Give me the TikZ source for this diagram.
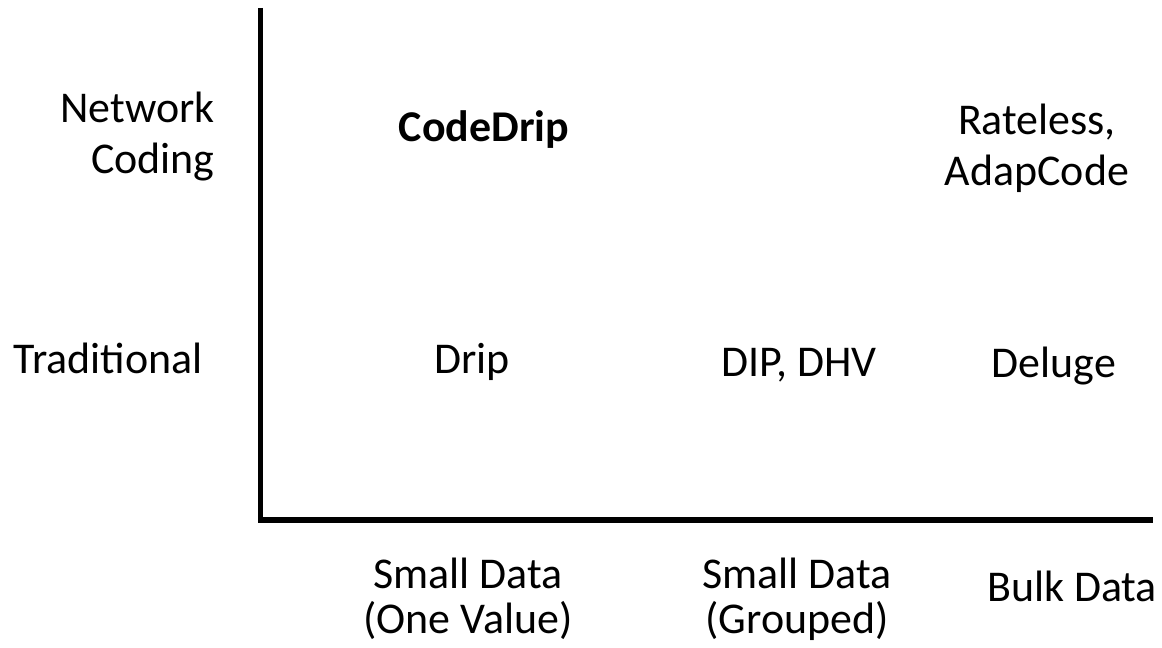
\documentclass[tikz,border=0pt]{standalone}
\usepackage{fontspec}
\setmainfont{Carlito}
\usepackage{tikz}

\begin{document}
\begin{tikzpicture}[x=0.02cm,y=-0.02cm,
    lbl/.style={font=\fontsize{25}{28.6}\selectfont, align=center, inner sep=0pt},
    collbl/.style={font=\fontsize{25}{25.5}\selectfont, align=center, inner sep=0pt}]
    \useasboundingbox (0,0) rectangle (1162,648);
    % axes
    \coordinate (ytop) at (260,8);
    \coordinate (origin) at (260,520);
    \coordinate (xend) at (1153,520);
    \draw [line width=2.85pt, line join=miter] (ytop)--(origin)--(xend);

    % row labels
    \node [lbl, align=right, anchor=north east] (netcoding) at (215,92) {Network\\Coding};
    \node [lbl, anchor=base west] (traditional) at (13,373) {Traditional};

    % column labels
    \node [collbl, anchor=north] (onevalue) at (468,558) {Small Data\\(One Value)};
    \node [collbl, anchor=north] (grouped) at (797,558) {Small Data\\(Grouped)};
    \node [collbl, anchor=base] (bulk) at (1072,601) {Bulk Data};

    % entries
    \node [lbl, font=\fontsize{25}{28.6}\selectfont\bfseries, anchor=base] (codedrip) at (484,142) {CodeDrip};
    \node [lbl, anchor=north] (rateless) at (1037,104) {Rateless,\\AdapCode};
    \node [lbl, anchor=base] (drip) at (472,373) {Drip};
    \node [lbl, anchor=base] (dipdhv) at (799,376) {DIP, DHV};
    \node [lbl, anchor=base] (deluge) at (1054,377) {Deluge};

\end{tikzpicture}
\end{document}
